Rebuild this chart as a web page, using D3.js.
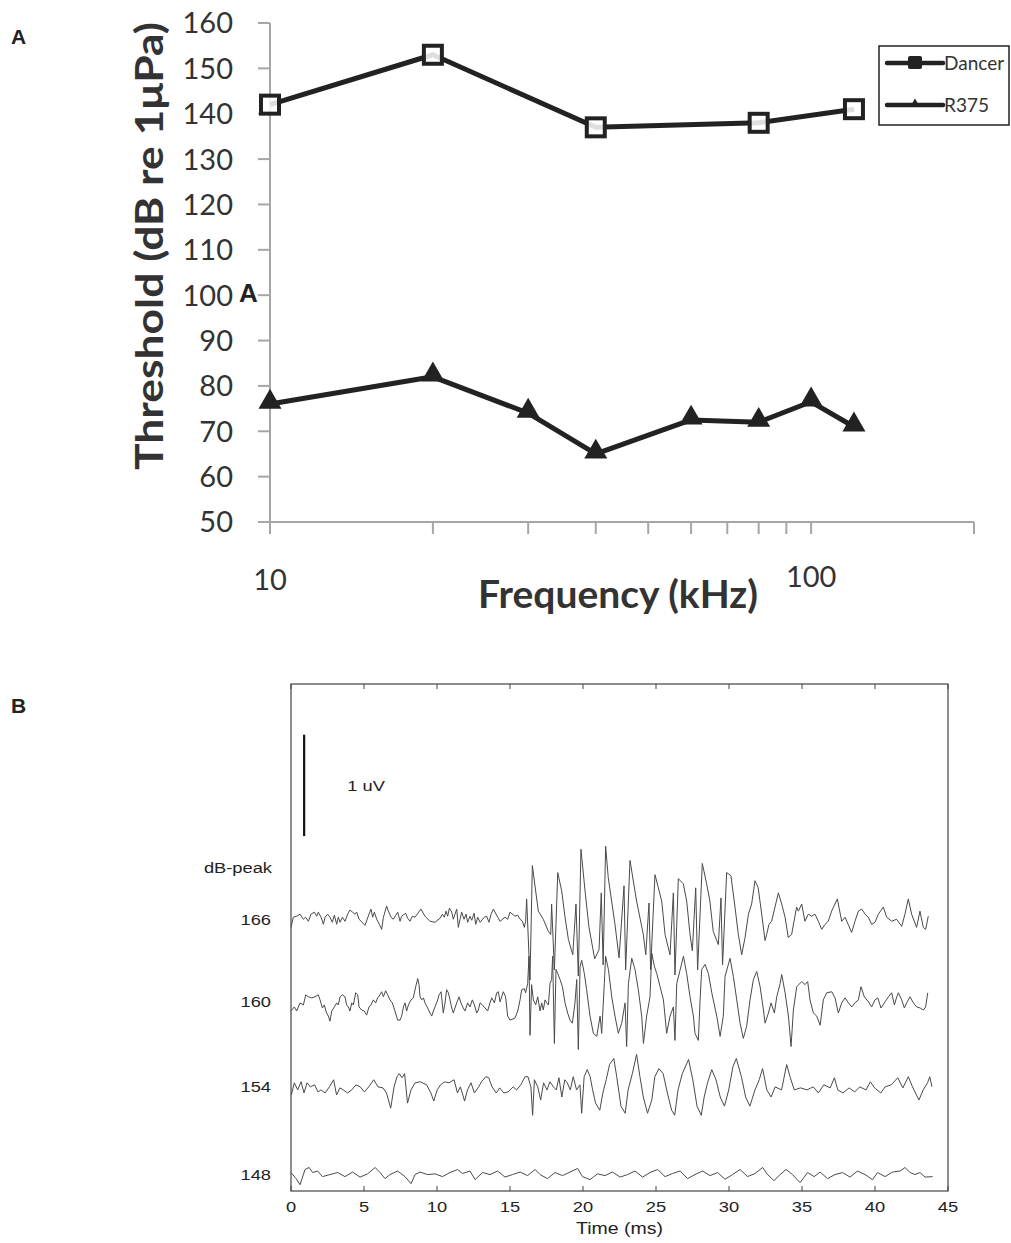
<!DOCTYPE html>
<html>
<head>
<meta charset="utf-8">
<script src="https://cdn.jsdelivr.net/npm/d3@7"></script>
<style>
  body { margin: 0; background: #fff; }
  svg { display: block; }
</style>
</head>
<body>
<svg id="chart" width="1011" height="1243"></svg>
<script>
// ---- panel A data: hearing thresholds ----
const freqDancer = [10, 20, 40, 80, 120];
const thrDancer = [142, 153, 137, 138, 141];
const freqR375 = [10, 20, 30, 40, 60, 80, 100, 120];
const thrR375 = [76, 82, 74, 65, 72.5, 72, 76.5, 71];
const thrTicks = [50, 60, 70, 80, 90, 100, 110, 120, 130, 140, 150, 160];
const freqTicks = [10, 20, 30, 40, 50, 60, 70, 80, 90, 100, 200];
const freqLabels = [10, 100];

// ---- panel B data: evoked traces, [time ms, microvolts] ----
const levels = ["166", "160", "154", "148"];
const levelOffsets = [2.68, 1.865, 1.027, 0.162]; // µV offset of each trace
const timeTicks = [0, 5, 10, 15, 20, 25, 30, 35, 40, 45];

const trace166 = [[0.0,-0.08],[0.16,0.02],[0.39,0.03],[0.62,0.05],[0.85,0.0],[1.0,0.02],[1.19,-0.02],[1.37,0.05],[1.6,0.07],[1.76,0.03],[1.87,0.07],[2.06,0.02],[2.22,-0.05],[2.33,0.02],[2.51,0.05],[2.67,0.02],[2.83,-0.03],[2.97,0.04],[3.13,-0.05],[3.24,0.02],[3.36,-0.03],[3.52,0.02],[3.7,-0.02],[3.88,0.05],[4.04,0.09],[4.22,0.07],[4.38,0.05],[4.5,0.07],[4.66,0.0],[4.8,-0.02],[5.07,-0.06],[5.34,0.05],[5.48,0.1],[5.59,0.02],[5.71,0.07],[5.87,0.0],[6.05,-0.05],[6.21,-0.1],[6.33,0.02],[6.55,0.13],[6.67,0.08],[6.85,0.02],[7.01,0.0],[7.31,0.07],[7.47,-0.02],[7.58,0.03],[7.85,0.06],[7.99,0.01],[8.15,-0.02],[8.31,0.03],[8.49,0.02],[8.9,0.1],[9.18,0.03],[9.52,-0.02],[9.86,-0.03],[10.21,0.01],[10.37,0.05],[10.5,0.02],[10.62,0.08],[10.73,0.03],[10.85,0.11],[11.01,0.07],[11.12,0.0],[11.23,0.05],[11.35,0.1],[11.46,-0.08],[11.58,0.0],[11.69,0.07],[11.85,0.0],[11.99,0.05],[12.1,-0.03],[12.26,0.03],[12.38,-0.01],[12.54,0.06],[12.65,-0.05],[12.79,0.02],[12.95,-0.03],[13.24,0.02],[13.4,0.03],[13.56,-0.03],[13.7,0.05],[13.86,0.1],[14.16,0.02],[14.32,-0.02],[14.66,0.02],[14.84,0.0],[15.0,0.07],[15.34,0.03],[15.53,0.04],[15.69,0.0],[15.85,-0.02],[15.98,-0.08],[16.07,-0.02],[16.14,0.2],[16.37,-0.6],[16.53,0.53],[16.94,0.08],[17.28,0.0],[17.63,-0.12],[17.79,-0.15],[17.85,0.15],[18.04,-0.5],[18.27,0.46],[18.54,0.28],[18.77,0.02],[19.0,-0.2],[19.3,-0.35],[19.52,0.15],[19.68,-0.56],[19.86,0.69],[20.14,0.28],[20.41,-0.08],[20.8,-0.39],[21.1,-0.3],[21.25,0.26],[21.38,-0.45],[21.55,0.72],[21.73,0.41],[22.19,-0.05],[22.47,-0.38],[22.81,0.33],[22.92,-0.5],[23.22,0.58],[23.67,0.18],[24.13,-0.15],[24.3,-0.35],[24.52,0.16],[24.63,-0.5],[24.93,0.44],[25.39,0.18],[25.62,-0.15],[25.96,-0.35],[26.19,0.26],[26.3,-0.55],[26.53,0.4],[26.87,0.35],[27.1,0.18],[27.33,-0.15],[27.49,-0.31],[27.72,0.31],[27.85,-0.5],[28.17,0.55],[28.47,0.35],[28.69,0.18],[28.92,-0.12],[29.27,-0.25],[29.45,0.21],[29.56,-0.45],[29.84,0.46],[30.13,0.43],[30.41,0.12],[30.64,-0.15],[30.87,-0.35],[31.1,-0.18],[31.33,0.05],[31.55,0.15],[31.78,0.38],[32.0,0.31],[32.24,0.05],[32.47,-0.21],[32.58,-0.15],[32.74,-0.05],[32.92,-0.02],[33.15,0.12],[33.38,0.26],[33.61,0.15],[33.84,0.02],[34.06,-0.18],[34.29,-0.15],[34.63,0.12],[34.75,0.08],[34.98,0.15],[35.2,-0.02],[35.43,0.05],[35.66,0.03],[35.89,0.05],[36.12,-0.02],[36.35,-0.1],[36.58,-0.05],[36.8,-0.02],[37.03,0.08],[37.42,0.2],[37.72,-0.02],[37.95,0.02],[38.4,-0.13],[38.63,-0.02],[38.86,0.08],[39.09,0.1],[39.32,0.05],[39.54,0.02],[39.77,-0.05],[40.0,-0.03],[40.23,0.05],[40.57,0.12],[40.8,0.02],[41.14,-0.02],[41.48,0.0],[41.83,-0.07],[42.05,0.05],[42.28,0.2],[42.51,0.05],[42.85,-0.08],[43.08,0.08],[43.31,-0.08],[43.47,-0.1],[43.65,0.03]];

const trace160 = [[0.0,-0.09],[0.23,-0.05],[0.39,-0.09],[0.62,-0.01],[0.85,-0.03],[1.01,0.07],[1.19,0.05],[1.42,0.04],[1.64,0.05],[1.87,0.07],[1.99,0.02],[2.15,-0.06],[2.28,-0.03],[2.44,-0.11],[2.56,-0.14],[2.67,-0.19],[2.79,-0.09],[2.97,-0.05],[3.13,-0.01],[3.24,-0.03],[3.36,0.05],[3.52,0.07],[3.7,0.05],[3.81,-0.03],[3.93,-0.05],[4.04,-0.09],[4.16,-0.01],[4.27,-0.03],[4.43,0.09],[4.57,0.07],[4.66,-0.05],[4.84,-0.08],[5.02,-0.09],[5.18,-0.13],[5.34,-0.05],[5.48,-0.03],[5.64,0.02],[5.8,-0.01],[5.94,0.04],[6.1,0.07],[6.21,0.1],[6.33,0.05],[6.48,0.11],[6.62,0.07],[6.78,0.02],[6.94,-0.01],[7.12,-0.09],[7.31,-0.18],[7.47,-0.18],[7.58,-0.14],[7.7,-0.05],[7.81,-0.01],[7.92,-0.09],[8.04,-0.03],[8.22,0.02],[8.38,0.04],[8.54,0.15],[8.68,0.23],[8.77,0.17],[8.84,0.05],[8.95,0.02],[9.07,0.04],[9.18,-0.01],[9.36,-0.06],[9.52,-0.11],[9.64,-0.14],[9.75,-0.09],[9.86,-0.05],[10.05,0.02],[10.14,0.07],[10.28,0.1],[10.43,-0.11],[10.55,-0.01],[10.66,0.12],[10.78,0.09],[10.89,0.02],[11.01,-0.06],[11.12,-0.11],[11.23,-0.06],[11.35,-0.01],[11.51,0.05],[11.64,-0.01],[11.8,-0.06],[11.92,-0.09],[12.1,-0.01],[12.26,-0.05],[12.42,0.02],[12.56,-0.03],[12.72,-0.11],[12.83,-0.08],[12.95,-0.01],[13.11,-0.03],[13.29,-0.06],[13.47,-0.09],[13.63,-0.01],[13.75,0.04],[13.93,-0.01],[14.09,0.09],[14.2,0.1],[14.32,0.0],[14.43,0.05],[14.54,0.1],[14.7,0.05],[14.84,-0.14],[15.0,-0.18],[15.34,-0.16],[15.53,-0.09],[15.69,0.02],[15.8,0.12],[15.98,0.13],[16.07,0.09],[16.21,0.18],[16.3,0.45],[16.37,-0.33],[16.48,0.17],[16.6,0.02],[16.76,-0.03],[16.9,0.05],[17.06,-0.09],[17.17,-0.01],[17.28,-0.08],[17.4,0.02],[17.51,-0.01],[17.63,-0.03],[17.74,0.18],[17.85,0.22],[17.92,0.45],[18.04,-0.41],[18.15,0.32],[18.27,0.28],[18.43,0.22],[18.59,0.15],[18.77,-0.01],[18.95,-0.11],[19.11,-0.18],[19.27,-0.21],[19.45,-0.01],[19.57,0.22],[19.68,-0.47],[19.8,0.35],[19.91,0.41],[20.09,0.28],[20.25,0.12],[20.48,-0.14],[20.71,-0.31],[20.94,-0.34],[21.17,-0.14],[21.28,-0.31],[21.46,0.18],[21.55,0.45],[21.74,0.32],[21.97,0.05],[22.19,-0.14],[22.42,-0.31],[22.65,-0.21],[22.88,-0.01],[22.99,-0.44],[23.11,0.18],[23.34,0.43],[23.56,0.32],[23.79,0.12],[24.02,-0.14],[24.14,-0.41],[24.36,-0.14],[24.59,0.05],[24.71,0.48],[24.89,0.35],[25.05,0.28],[25.28,0.15],[25.51,0.02],[25.73,-0.31],[25.96,-0.14],[26.19,-0.05],[26.3,-0.38],[26.42,0.18],[26.88,0.45],[27.1,0.28],[27.33,0.05],[27.56,-0.14],[27.67,-0.31],[27.9,-0.38],[28.02,0.02],[28.13,0.32],[28.36,0.37],[28.59,0.28],[28.82,0.09],[29.16,-0.14],[29.39,-0.34],[29.61,-0.14],[29.73,0.25],[30.07,0.43],[30.3,0.25],[30.53,0.02],[30.76,-0.21],[30.98,-0.36],[31.21,-0.24],[31.44,0.02],[31.67,0.22],[31.9,0.3],[32.13,0.15],[32.36,-0.08],[32.47,-0.21],[32.7,-0.11],[32.88,-0.01],[33.11,-0.11],[33.27,0.05],[33.5,0.18],[33.61,0.27],[33.84,0.09],[34.07,-0.14],[34.25,-0.44],[34.41,-0.08],[34.64,0.15],[34.98,0.2],[35.21,0.17],[35.39,0.2],[35.55,0.02],[35.78,-0.11],[36.01,-0.14],[36.24,-0.23],[36.46,0.02],[36.69,0.09],[37.04,0.1],[37.26,0.04],[37.49,-0.11],[37.72,-0.01],[37.95,0.04],[38.18,-0.01],[38.41,-0.05],[38.63,-0.01],[38.86,0.02],[39.04,0.15],[39.27,0.05],[39.55,0.0],[39.77,-0.05],[40.0,0.02],[40.19,0.04],[40.41,-0.06],[40.69,0.0],[40.92,0.05],[41.14,0.09],[41.33,-0.03],[41.49,0.05],[41.6,0.09],[41.83,0.02],[42.01,-0.06],[42.17,-0.01],[42.4,0.05],[42.63,-0.01],[42.86,-0.05],[43.09,-0.06],[43.31,-0.08],[43.47,-0.05],[43.61,0.09]];

const trace154 = [[0.02,-0.08],[0.23,0.04],[0.46,-0.03],[0.69,0.05],[0.89,-0.06],[1.1,0.04],[1.33,0.0],[1.62,0.02],[1.85,-0.05],[2.05,-0.03],[2.34,-0.06],[2.63,0.0],[2.92,0.07],[3.12,-0.08],[3.35,-0.01],[3.58,-0.03],[3.87,-0.06],[4.16,-0.03],[4.45,0.02],[4.74,0.0],[5.03,-0.05],[5.32,0.0],[5.67,0.07],[5.96,0.0],[6.3,-0.01],[6.54,-0.06],[6.83,-0.21],[7.06,0.0],[7.26,0.1],[7.41,0.13],[7.61,0.09],[7.78,0.13],[7.98,-0.16],[8.22,-0.03],[8.5,0.04],[8.85,0.05],[9.29,0.02],[9.58,-0.06],[9.78,-0.14],[10.01,-0.03],[10.24,0.02],[10.53,0.05],[10.82,0.04],[11.17,0.07],[11.4,-0.06],[11.6,0.0],[11.89,-0.14],[12.09,-0.03],[12.33,0.04],[12.56,-0.06],[12.85,0.0],[13.05,0.05],[13.34,0.1],[13.54,0.09],[13.77,0.0],[14.06,-0.06],[14.29,-0.01],[14.58,-0.06],[14.87,-0.05],[15.22,0.0],[15.45,-0.03],[15.74,0.02],[16.03,0.1],[16.23,0.1],[16.43,0.0],[16.55,-0.28],[16.67,0.07],[16.9,0.0],[17.1,-0.13],[17.3,0.04],[17.53,-0.03],[17.74,0.05],[17.97,0.0],[18.17,-0.03],[18.35,0.09],[18.55,-0.1],[18.75,0.07],[18.92,0.04],[19.13,-0.03],[19.33,0.1],[19.56,-0.03],[19.79,0.02],[19.91,-0.26],[20.08,0.1],[20.29,0.17],[20.49,0.1],[20.66,-0.03],[20.86,-0.16],[21.15,-0.23],[21.36,-0.06],[21.59,0.07],[21.82,0.22],[22.11,0.28],[22.31,0.1],[22.6,-0.19],[22.89,-0.26],[23.09,-0.03],[23.38,0.13],[23.67,0.32],[23.9,0.1],[24.13,-0.1],[24.42,-0.26],[24.71,-0.13],[24.92,0.1],[25.2,0.18],[25.49,0.13],[25.78,-0.06],[26.07,-0.23],[26.28,-0.28],[26.51,-0.03],[26.8,0.13],[27.23,0.27],[27.52,0.07],[27.81,-0.19],[28.1,-0.28],[28.3,-0.1],[28.53,0.04],[28.82,0.17],[29.11,0.07],[29.4,-0.1],[29.69,-0.19],[29.98,-0.03],[30.27,0.2],[30.5,0.28],[30.85,0.1],[31.14,-0.1],[31.43,-0.19],[31.78,-0.03],[32.07,0.07],[32.3,0.18],[32.59,-0.03],[32.88,-0.1],[33.16,0.0],[33.6,-0.03],[33.95,0.22],[34.18,0.1],[34.47,-0.03],[34.9,-0.01],[35.34,-0.03],[35.77,0.0],[36.12,-0.06],[36.49,0.02],[36.93,-0.01],[37.22,0.09],[37.45,-0.03],[37.8,-0.06],[38.23,-0.01],[38.61,-0.05],[38.95,0.0],[39.39,-0.03],[39.68,0.05],[39.97,-0.01],[40.4,-0.06],[40.69,0.0],[41.12,0.02],[41.56,0.09],[41.91,-0.01],[42.28,0.1],[42.57,0.0],[43.01,-0.13],[43.3,-0.03],[43.6,0.04],[43.75,0.1],[43.9,0.0]];

const trace148 = [[0.0,0.02],[0.35,-0.04],[0.62,-0.1],[0.96,0.05],[1.24,0.07],[1.48,0.02],[1.82,0.035],[2.16,-0.02],[2.67,0.0],[3.19,0.02],[3.7,-0.02],[4.22,0.025],[4.73,-0.025],[5.24,0.007],[5.76,0.07],[6.1,0.02],[6.44,-0.04],[6.78,0.0],[7.3,0.035],[7.81,-0.02],[8.22,-0.09],[8.5,0.0],[8.84,0.025],[9.35,0.0],[9.87,0.007],[10.38,-0.02],[10.89,0.02],[11.41,0.05],[11.75,0.01],[12.26,0.035],[12.61,-0.05],[13.12,0.02],[13.63,0.0],[14.15,0.035],[14.66,-0.025],[15.17,0.0],[15.69,0.025],[16.2,-0.01],[16.72,0.05],[17.06,0.0],[17.57,-0.04],[18.08,0.02],[18.6,-0.01],[19.11,0.025],[19.63,0.06],[19.97,-0.02],[20.48,-0.05],[20.99,0.007],[21.51,-0.01],[22.02,0.025],[22.54,-0.025],[23.05,0.0],[23.56,0.035],[24.08,-0.025],[24.59,0.02],[25.11,0.05],[25.62,-0.02],[26.13,0.01],[26.65,0.035],[27.16,-0.04],[27.67,0.0],[28.19,0.035],[28.7,-0.01],[29.22,0.02],[29.73,-0.046],[30.24,0.0],[30.76,0.05],[31.27,-0.02],[31.78,0.01],[32.3,0.07],[32.64,0.0],[33.08,-0.06],[33.5,0.0],[33.91,0.05],[34.35,0.0],[34.87,-0.08],[35.38,0.02],[35.83,-0.02],[36.24,0.025],[36.75,-0.04],[37.26,0.0],[37.78,0.02],[38.29,-0.025],[38.8,0.035],[39.32,0.0],[39.83,-0.05],[40.17,0.02],[40.69,-0.02],[41.2,0.025],[41.72,0.035],[42.06,0.07],[42.4,0.02],[42.74,0.0],[43.08,0.02],[43.43,-0.025],[43.94,-0.02]];

const traces = [trace166, trace160, trace154, trace148];

const svg = d3.select("#chart");
const ink = "#222";
const axisGray = "#a6a6a6";
const fontA = "Lato, 'Open Sans', sans-serif";
const fontB = "'Liberation Sans', Arial, sans-serif";

// ================= Panel A =================
const x = d3.scaleLog().domain([10, 200]).range([270, 974]);
const y = d3.scaleLinear().domain([50, 160]).range([522, 23]);

svg.append("text").attr("x", 11).attr("y", 44)
  .attr("font-family", fontB).attr("font-weight", "bold").attr("font-size", 21)
  .attr("fill", ink).text("A");

const gA = svg.append("g");

// y axis
gA.append("line").attr("x1", x(10)).attr("x2", x(10))
  .attr("y1", y(160)).attr("y2", y(50) + 10)
  .attr("stroke", axisGray).attr("stroke-width", 2);
gA.selectAll(".ytick").data(thrTicks).join("line")
  .attr("x1", x(10) - 12).attr("x2", x(10))
  .attr("y1", d => y(d)).attr("y2", d => y(d))
  .attr("stroke", axisGray).attr("stroke-width", 2);
gA.selectAll(".ylab").data(thrTicks).join("text")
  .attr("x", 233).attr("y", d => y(d)).attr("dy", "0.36em")
  .attr("text-anchor", "end").attr("font-family", fontA).attr("font-size", 29)
  .attr("fill", "#333").text(d => d);

// x axis
gA.append("line").attr("x1", x(10) - 12).attr("x2", x(200))
  .attr("y1", y(50)).attr("y2", y(50))
  .attr("stroke", axisGray).attr("stroke-width", 2);
gA.selectAll(".xtick").data(freqTicks).join("line")
  .attr("x1", d => x(d)).attr("x2", d => x(d))
  .attr("y1", y(50)).attr("y2", y(50) + 12)
  .attr("stroke", axisGray).attr("stroke-width", 2);
gA.selectAll(".xlab").data(freqLabels).join("text")
  .attr("x", d => x(d)).attr("y", (d, i) => i === 0 ? 590 : 587)
  .attr("text-anchor", "middle").attr("font-family", fontA).attr("font-size", 29)
  .attr("fill", "#333").text(d => d);

// axis titles
gA.append("text")
  .attr("transform", "translate(163,246) rotate(-90)")
  .attr("text-anchor", "middle").attr("font-family", fontA)
  .attr("font-weight", "bold").attr("font-size", 38).attr("fill", "#333")
  .attr("textLength", 448).attr("lengthAdjust", "spacingAndGlyphs")
  .text("Threshold (dB re 1\u03bcPa)");
gA.append("text").attr("x", 618).attr("y", 608)
  .attr("text-anchor", "middle").attr("font-family", fontA)
  .attr("font-weight", "bold").attr("font-size", 38).attr("fill", "#333")
  .attr("textLength", 280).attr("lengthAdjust", "spacingAndGlyphs")
  .text("Frequency (kHz)");
// stray panel letter sitting by the 100 tick in the source figure
gA.append("text").attr("x", 239).attr("y", 302)
  .attr("font-family", fontB).attr("font-weight", "bold").attr("font-size", 26)
  .attr("fill", ink).text("A");

// series
const lineA = d3.line().x(d => x(d[0])).y(d => y(d[1]));
const dancer = freqDancer.map((f, i) => [f, thrDancer[i]]);
const r375 = freqR375.map((f, i) => [f, thrR375[i]]);

gA.append("path").datum(dancer).attr("d", lineA)
  .attr("fill", "none").attr("stroke", ink).attr("stroke-width", 5)
  .attr("stroke-linejoin", "round");
gA.selectAll(".sq").data(dancer).join("rect")
  .attr("x", d => x(d[0]) - 9).attr("y", d => y(d[1]) - 9)
  .attr("width", 18).attr("height", 18)
  .attr("fill", "#fff").attr("fill-opacity", 0.85)
  .attr("stroke", ink).attr("stroke-width", 4);

gA.append("path").datum(r375).attr("d", lineA)
  .attr("fill", "none").attr("stroke", ink).attr("stroke-width", 5)
  .attr("stroke-linejoin", "round");
const tri = d3.symbol(d3.symbolTriangle, 230);
gA.selectAll(".tri").data(r375).join("path")
  .attr("transform", d => `translate(${x(d[0])},${y(d[1]) - 2})`)
  .attr("d", tri).attr("fill", ink);

// legend
const leg = gA.append("g").attr("transform", "translate(879,46)");
leg.append("rect").attr("width", 130).attr("height", 79)
  .attr("fill", "#fff").attr("stroke", ink).attr("stroke-width", 1.5);
[["Dancer", "sq"], ["R375", "tri"]].forEach(([name, mk], i) => {
  const ly = 17 + i * 42;
  leg.append("line").attr("x1", 8).attr("x2", 64).attr("y1", ly).attr("y2", ly)
    .attr("stroke", ink).attr("stroke-width", 4.5).attr("stroke-linecap", "round");
  if (mk === "sq") {
    leg.append("rect").attr("x", 29).attr("y", ly - 7).attr("width", 14).attr("height", 13)
      .attr("rx", 2).attr("fill", ink);
  } else {
    leg.append("path").attr("transform", `translate(36,${ly - 1})`)
      .attr("d", d3.symbol(d3.symbolTriangle, 40)).attr("fill", ink);
  }
  leg.append("text").attr("x", 65).attr("y", ly).attr("dy", "0.35em")
    .attr("font-family", fontA).attr("font-size", 19).attr("fill", "#333").text(name);
});

// ================= Panel B =================
const tx = d3.scaleLinear().domain([0, 45]).range([291, 948]);
const uv = d3.scaleLinear().domain([0, 5]).range([1191, 684]);
const stretch = 1.22; // panel B lettering is widened in the source figure

// text helper: widened Arial-like label anchored at (px, py)
const labelB = (g, px, py, txt, size, anchor) =>
  g.append("text")
    .attr("transform", `translate(${px},${py}) scale(${stretch},1)`)
    .attr("text-anchor", anchor).attr("font-family", fontB)
    .attr("font-size", size).attr("fill", ink).text(txt);

svg.append("text").attr("x", 11).attr("y", 713)
  .attr("font-family", fontB).attr("font-weight", "bold").attr("font-size", 21)
  .attr("fill", ink).text("B");

const gB = svg.append("g");
gB.append("rect").attr("x", tx(0)).attr("y", uv(5))
  .attr("width", tx(45) - tx(0)).attr("height", uv(0) - uv(5))
  .attr("fill", "none").attr("stroke", "#444").attr("stroke-width", 1.2);

gB.selectAll(".tb").data(timeTicks).join("line")
  .attr("x1", d => tx(d)).attr("x2", d => tx(d))
  .attr("y1", uv(0)).attr("y2", uv(0) - 5).attr("stroke", "#444");
gB.selectAll(".tt").data(timeTicks).join("line")
  .attr("x1", d => tx(d)).attr("x2", d => tx(d))
  .attr("y1", uv(5)).attr("y2", uv(5) + 5).attr("stroke", "#444");
timeTicks.forEach(d => labelB(gB, tx(d), 1212, d, 15, "middle"));
labelB(gB, (tx(0) + tx(45)) / 2, 1234, "Time (ms)", 16, "middle");

// level labels
levels.forEach((d, i) => labelB(gB, 271, uv(levelOffsets[i]) + 5.5, d, 15, "end"));
labelB(gB, 272, 873, "dB-peak", 15, "end");

// 1 uV scale bar
gB.append("line").attr("x1", tx(0.9)).attr("x2", tx(0.9))
  .attr("y1", uv(3.5)).attr("y2", uv(4.5))
  .attr("stroke", "#111").attr("stroke-width", 2.2);
labelB(gB, tx(3.85), uv(4) + 5.5, "1 uV", 15, "start");

// traces
traces.forEach((tr, i) => {
  const line = d3.line().x(d => tx(d[0])).y(d => uv(levelOffsets[i] + d[1]));
  gB.append("path").datum(tr).attr("d", line)
    .attr("fill", "none").attr("stroke", "#4a4a4a").attr("stroke-width", 1)
    .attr("stroke-linejoin", "round");
});
</script>
</body>
</html>
